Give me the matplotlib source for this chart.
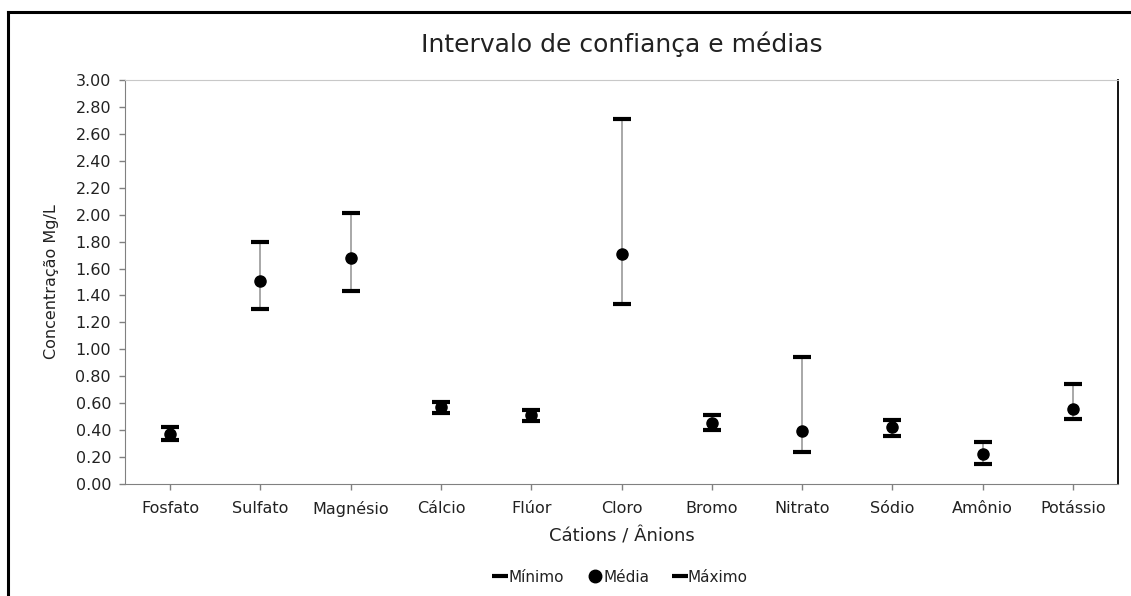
import matplotlib.pyplot as plt
from matplotlib.lines import Line2D

# Data
categorias = ["Fosfato", "Sulfato", "Magnésio", "Cálcio", "Flúor", "Cloro",
              "Bromo", "Nitrato", "Sódio", "Amônio", "Potássio"]
minimo = [0.33, 1.30, 1.43, 0.53, 0.47, 1.34, 0.40, 0.24, 0.36, 0.15, 0.48]
media = [0.37, 1.51, 1.68, 0.57, 0.51, 1.71, 0.45, 0.39, 0.42, 0.22, 0.56]
maximo = [0.42, 1.80, 2.01, 0.61, 0.55, 2.71, 0.51, 0.94, 0.475, 0.31, 0.74]
y_ticks = [0.0, 0.2, 0.4, 0.6, 0.8, 1.0, 1.2, 1.4, 1.6, 1.8, 2.0, 2.2, 2.4, 2.6, 2.8, 3.0]

plt.rcParams['font.family'] = ['DejaVu Sans']

fig = plt.figure(figsize=(11.31, 5.96), dpi=100)
ax = fig.add_axes([125 / 1131, 1 - 484 / 596, 993 / 1131, 404 / 596])

x = [i + 0.5 for i in range(len(categorias))]

# Interval lines, caps and means
ax.vlines(x, minimo, maximo, color="#999999", lw=1.2, zorder=2)
ax.plot(x, minimo, linestyle="none", marker="_", markersize=13.5, mew=3, color="black", zorder=3)
ax.plot(x, maximo, linestyle="none", marker="_", markersize=13.5, mew=3, color="black", zorder=3)
ax.plot(x, media, linestyle="none", marker="o", markersize=8, color="black", zorder=4)

# Axes
ax.set_xlim(0, len(categorias))
ax.set_ylim(0, 3.0)
ax.set_yticks(y_ticks)
ax.set_yticklabels([f"{v:.2f}" for v in y_ticks], fontsize=11.5, color="#222222")
ax.set_xticks(x)
ax.set_xticklabels(categorias, fontsize=11.5, color="#222222")
ax.tick_params(axis="y", direction="out", length=4, width=1, color="#808080", pad=6)
ax.tick_params(axis="x", direction="out", length=4, width=1, color="#808080", pad=8)

ax.spines["left"].set_color("#808080")
ax.spines["bottom"].set_color("#808080")
ax.spines["top"].set_color("#c8c8c8")
ax.spines["right"].set_color("black")
ax.spines["right"].set_linewidth(1.3)

ax.set_title("Intervalo de confiança e médias", fontsize=18, color="#222222", pad=20)
ax.set_xlabel("Cátions / Ânions", fontsize=13, color="#222222", labelpad=8)
ax.set_ylabel("Concentração Mg/L", fontsize=11.5, color="#222222", labelpad=12)

# Legend
handles = [
    Line2D([], [], linestyle="none", marker="_", markersize=11, mew=3, color="black"),
    Line2D([], [], linestyle="none", marker="o", markersize=9, color="black"),
    Line2D([], [], linestyle="none", marker="_", markersize=11, mew=3, color="black"),
]
fig.legend(handles, ["Mínimo", "Média", "Máximo"], loc="center", bbox_to_anchor=(621 / 1131, 1 - 577 / 596),
           ncol=3, frameon=False, fontsize=11, handlelength=0.8, handletextpad=0.15, columnspacing=1.6,
           labelcolor="#222222")

# Outer frame (top and left edges visible)
fig.add_artist(Line2D([8 / 1131, 1.0], [1 - 12 / 596, 1 - 12 / 596], color="black", lw=2.2))
fig.add_artist(Line2D([8 / 1131, 8 / 1131], [0.0, 1 - 12 / 596], color="black", lw=2.2))

fig.savefig("out.png", dpi=100)
